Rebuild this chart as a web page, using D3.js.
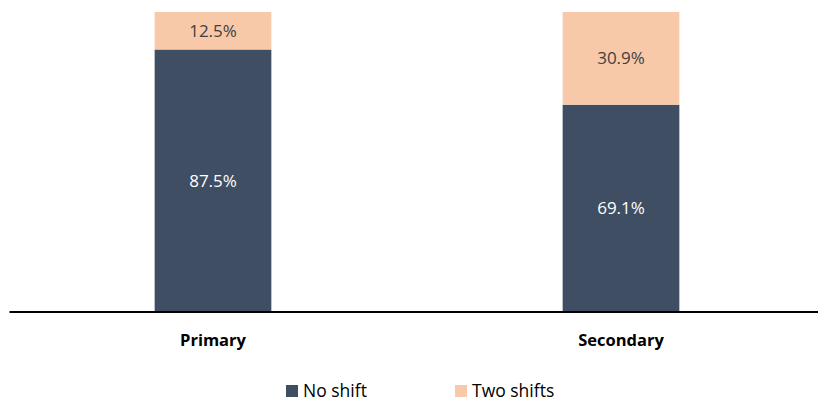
<!DOCTYPE html>
<html><head><meta charset="utf-8">
<script src="https://cdn.jsdelivr.net/npm/d3@7/dist/d3.min.js"></script>
<style>body{margin:0;background:#fff;} svg{display:block;font-family:"Open Sans","Noto Sans",sans-serif;}</style>
</head><body>
<svg id="c" width="818" height="402"></svg>
<script>
const categories = ["Primary", "Secondary"];
const seriesNames = ["No shift", "Two shifts"];
const noShift = [87.5, 69.1];
const twoShifts = [12.5, 30.9];
const colors = ["#3F4E63", "#F8C9A8"];
const labelColors = ["#FFFFFF", "#404040"];

const svg = d3.select("#c");
const rows = categories.map((c, i) => ({cat: c, "No shift": noShift[i], "Two shifts": twoShifts[i]}));
const stack = d3.stack().keys(seriesNames)(rows);

const x = d3.scaleBand().domain(categories).range([9, 825]).paddingInner(0.714).paddingOuter(0.357);
const y = d3.scaleLinear().domain([0, 100]).range([312, 12]);

stack.forEach((s, si) => {
  const g = svg.append("g");
  g.selectAll("rect").data(s).join("rect")
    .attr("x", d => x(d.data.cat))
    .attr("width", x.bandwidth())
    .attr("y", d => y(d[1]))
    .attr("height", d => y(d[0]) - y(d[1]))
    .attr("fill", colors[si]);
  g.selectAll("text").data(s).join("text")
    .attr("x", d => x(d.data.cat) + x.bandwidth() / 2)
    .attr("y", d => (y(d[0]) + y(d[1])) / 2)
    .attr("dy", "0.36em")
    .attr("text-anchor", "middle")
    .attr("font-size", 17)
    .attr("fill", labelColors[si])
    .text(d => (d[1] - d[0]).toFixed(1) + "%");
});

// axis line
svg.append("line").attr("x1", 9.5).attr("x2", 818).attr("y1", 312).attr("y2", 312)
  .attr("stroke", "#000").attr("stroke-width", 2);

// category labels
svg.selectAll("text.cat").data(categories).join("text").attr("class", "cat")
  .attr("x", d => x(d) + x.bandwidth() / 2)
  .attr("y", 346)
  .attr("text-anchor", "middle")
  .attr("font-size", 16.5)
  .attr("font-weight", "bold")
  .attr("fill", "#000")
  .text(d => d);

// legend
const legX = [286, 455];
seriesNames.forEach((n, i) => {
  svg.append("rect").attr("x", legX[i]).attr("y", 385).attr("width", 12).attr("height", 12).attr("fill", colors[i]);
  svg.append("text").attr("x", legX[i] + 17).attr("y", 397).attr("font-size", 17.5).attr("fill", "#000").text(n);
});
</script>
</body></html>
